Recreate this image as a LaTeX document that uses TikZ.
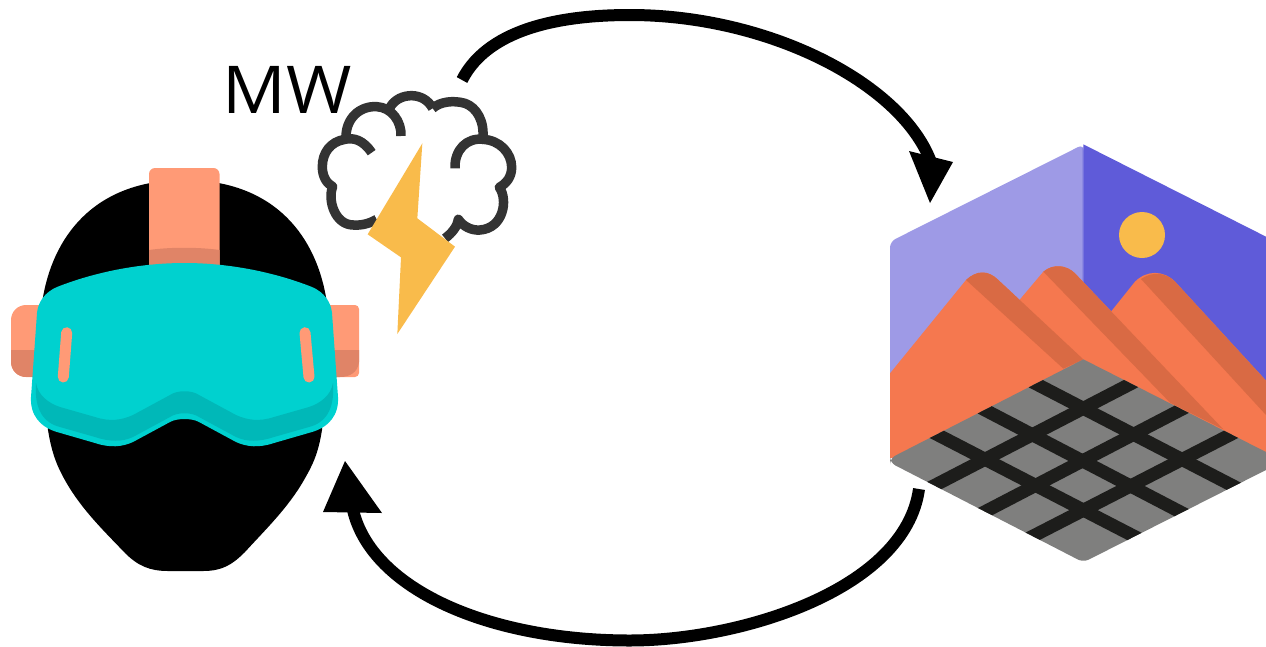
\documentclass[tikz,border=0pt]{standalone}
\usepackage{fontspec}
\setmainfont{Open Sans}
\definecolor{strap}{HTML}{FF9A76}
\definecolor{strapdark}{HTML}{E08467}
\definecolor{visor}{HTML}{00D1CF}
\definecolor{visordark}{HTML}{00B8B8}
\definecolor{bolt}{HTML}{F9BB4B}
\definecolor{cloudink}{HTML}{333333}
\definecolor{wallL}{HTML}{9E9AE6}
\definecolor{wallR}{HTML}{5F5BD9}
\definecolor{mount}{HTML}{F5784F}
\definecolor{mountdark}{HTML}{D96A44}
\definecolor{floorgrey}{HTML}{7F7F7E}
\definecolor{gridink}{HTML}{1D1D1B}
\tikzset{
  gridline/.style={gridink,line width=13pt},
  cloudline/.style={cloudink,line width=9.5pt,line join=round},
  loopline/.style={black,line width=12pt},
  barline/.style={strap,line width=11pt,line cap=round},
  zoomA/.style={shift={(210,50)},scale=0.33333},
  zoomB/.style={shift={(880,130)},scale=0.33333}
}
\begin{document}
\begin{tikzpicture}[x=1pt,y=-1pt]
\useasboundingbox (0,0) rectangle (1266,646);
% ---- head
\fill[black] (184.5,180) .. controls (100,180) and (55,230) .. (43,297) -- (41,340) -- (48,430)
  .. controls (52,455) and (58,468) .. (66,482) .. controls (82,510) and (105,532) .. (125,553)
  .. controls (138,566) and (150,571) .. (168,571) -- (203,571)
  .. controls (222,571) and (232,565) .. (245,552) .. controls (265,530) and (288,508) .. (304,480)
  .. controls (312,466) and (318,455) .. (322,430) -- (328,340) -- (326,297)
  .. controls (314,230) and (269,180) .. (184.5,180) -- cycle;
% strap
\fill[strap,rounded corners=6pt] (149,275) -- (149,168) -- (219.5,168) -- (219.5,275) -- cycle;
\fill[strapdark] (149,250) .. controls (170,247) and (198,247) .. (219.5,250) -- (219.5,270) -- (149,270) -- cycle;
% ears
\fill[strap,rounded corners=15pt] (60,305) -- (11,305) -- (11,377) -- (60,377) -- cycle;
\begin{scope}
\clip[rounded corners=15pt] (60,305) -- (11,305) -- (11,377) -- (60,377) -- cycle;
\fill[strapdark] (11,350) rectangle (60,377);
\end{scope}
\fill[strap,rounded corners=4pt] (310,305) -- (359,305) -- (359,377) -- (310,377) -- cycle;
\fill[strapdark] (310,350) -- (359,350) -- (359,362) .. controls (358,372) and (350,377) .. (340,377) -- (310,377) -- cycle;
% goggles
\fill[visor] (184.5,263) .. controls (140,263) and (95,272) .. (57,287) .. controls (45,292) and (38,302) .. (37,313)
  -- (31,397) .. controls (30,415) and (40,427) .. (57,432) -- (95,443) .. controls (110,448) and (122,447) .. (133,442)
  -- (170,422) .. controls (177,418) and (192,418) .. (199,422) -- (236,442) .. controls (247,447) and (259,448) .. (274,443)
  -- (312,432) .. controls (329,427) and (339,415) .. (338,397) -- (332,313) .. controls (331,302) and (324,292) .. (312,287)
  .. controls (274,272) and (229,263) .. (184.5,263) -- cycle;
\fill[visordark] (36,383) .. controls (38,395) and (48,403) .. (60,407) -- (95,417) .. controls (110,422) and (122,420) .. (133,415)
  -- (170,395) .. controls (177,390) and (192,390) .. (199,395) -- (236,415) .. controls (247,420) and (259,422) .. (274,417)
  -- (309,407) .. controls (321,403) and (331,395) .. (333,383) .. controls (335,410) and (325,423) .. (309,427)
  -- (274,437) .. controls (259,442) and (247,442) .. (236,437) -- (199,417) .. controls (192,412) and (177,412) .. (170,417)
  -- (133,437) .. controls (122,442) and (110,442) .. (95,437) -- (60,427) .. controls (44,423) and (34,410) .. (36,383) -- cycle;
\draw[barline] (66.7,332.7) -- (63.3,377);
\draw[barline] (305,332.7) -- (309,377);
% ---- label
\node[anchor=base west,inner sep=0pt,font=\fontsize{66}{66}\selectfont,xscale=1.07,transform shape] (mw) at (222.5,113) {MW};
% ---- cloud
\begin{scope}[zoomA]
\draw[cloudline] (485,308) .. controls (460,270) and (430,262) .. (405,268)
  .. controls (360,275) and (337,310) .. (337,350) .. controls (337,380) and (350,400) .. (368,410)
  .. controls (352,450) and (375,525) .. (430,525) .. controls (455,527) and (480,520) .. (500,508);
\draw[cloudline] (408,268) .. controls (405,205) and (450,167) .. (500,170) .. controls (545,172) and (575,215) .. (573,258);
\draw[cloudline] (540,172) .. controls (555,147) and (580,137) .. (605,137) .. controls (630,137) and (655,150) .. (668,175);
\draw[cloudline] (668,175) .. controls (690,155) and (730,150) .. (765,160) .. controls (800,172) and (825,215) .. (818,268);
\draw[cloudline] (820,268) .. controls (770,262) and (733,300) .. (735,355);
\draw[cloudline] (818,268) .. controls (870,270) and (905,310) .. (905,352) .. controls (905,380) and (890,400) .. (868,412)
  .. controls (895,450) and (880,535) .. (810,540) .. controls (785,542) and (760,530) .. (745,508)
  .. controls (742,530) and (725,550) .. (705,565);
\fill[bolt] (637,280) -- (622,505) -- (735,590) -- (562,852) -- (573,622) -- (473,553) -- cycle;
\end{scope}
% ---- hexagon
\begin{scope}[zoomB]
\fill[wallL,rounded corners=6pt] (610.5,43) -- (30,335) -- (30,990) -- (610.5,990) -- cycle;
\fill[wallR] (610,43) -- (1158,320) -- (1158,970) -- (610,970) -- cycle;
\fill[wallR,opacity=0.25] (607,50) rectangle (611,460);
\fill[bolt] (786,315) circle (69);
% mountain 3
\fill[mount] (693,545) -- (765,455) .. controls (800,420) and (850,420) .. (885,455) -- (1158,752) -- (1158,970) -- (610,970) -- cycle;
\fill[mountdark] (783,447) .. controls (815,425) and (855,425) .. (885,455) -- (1158,752) -- (1158,855) -- cycle;
% mountain 2
\fill[mount] (420,508) -- (490,425) .. controls (520,400) and (560,405) .. (585,430) -- (1030,898) -- (610,970) -- (420,800) -- cycle;
\fill[mountdark] (490,425) .. controls (520,400) and (560,405) .. (585,430) -- (1030,898) -- (870,818) -- cycle;
% mountain 1
\fill[mount] (30,730) -- (258,450) .. controls (290,420) and (325,420) .. (355,450) -- (610,688) -- (610,850) -- (30,985) -- cycle;
\fill[mountdark] (258,450) .. controls (290,420) and (325,420) .. (355,450) -- (610,688) -- (550,716) -- cycle;
% floor
\path[fill=floorgrey] (610,688) [rounded corners=6pt] -- (30,985) -- (30,998) -- (610,1297) [sharp corners] -- (1158,1020) -- (1158,966) -- cycle;
\begin{scope}
\clip (610,688) -- (30,985) -- (30,998) -- (610,1297) -- (1158,1020) -- (1158,966) -- cycle;
\coordinate (a1) at (417,735); \coordinate (a2) at (1108,1093);
\coordinate (b1) at (267,815); \coordinate (b2) at (953,1173);
\coordinate (c1) at (120,887); \coordinate (c2) at (813,1245);
\coordinate (d1) at (803,735); \coordinate (d2) at (112,1093);
\coordinate (e1) at (953,813); \coordinate (e2) at (267,1170);
\coordinate (f1) at (1098,890); \coordinate (f2) at (407,1245);
\draw[gridline] (a1) -- (a2); \draw[gridline] (b1) -- (b2); \draw[gridline] (c1) -- (c2);
\draw[gridline] (d1) -- (d2); \draw[gridline] (e1) -- (e2); \draw[gridline] (f1) -- (f2);
\end{scope}
\end{scope}
% ---- loop arrows
\coordinate (topstart) at (462,80);
\coordinate (topend) at (932,165);
\coordinate (toptipL) at (909,151);
\coordinate (toptipR) at (953,162);
\coordinate (toptip) at (930,203);
\draw[loopline] (topstart) .. controls (490,25) and (570,15) .. (630,15) .. controls (770,15) and (905,85) .. (topend);
\fill[black] (toptipL) -- (toptip) -- (toptipR) -- cycle;
\coordinate (botstart) at (919,489);
\coordinate (botend) at (353,510);
\coordinate (bottipL) at (382,513);
\coordinate (bottipR) at (323,512);
\coordinate (bottip) at (345,461);
\draw[loopline] (botstart) .. controls (905,590) and (740,640.5) .. (630,640.5) .. controls (490,640.5) and (372,590) .. (botend);
\fill[black] (bottipL) -- (bottip) -- (bottipR) -- cycle;
\end{tikzpicture}
\end{document}
